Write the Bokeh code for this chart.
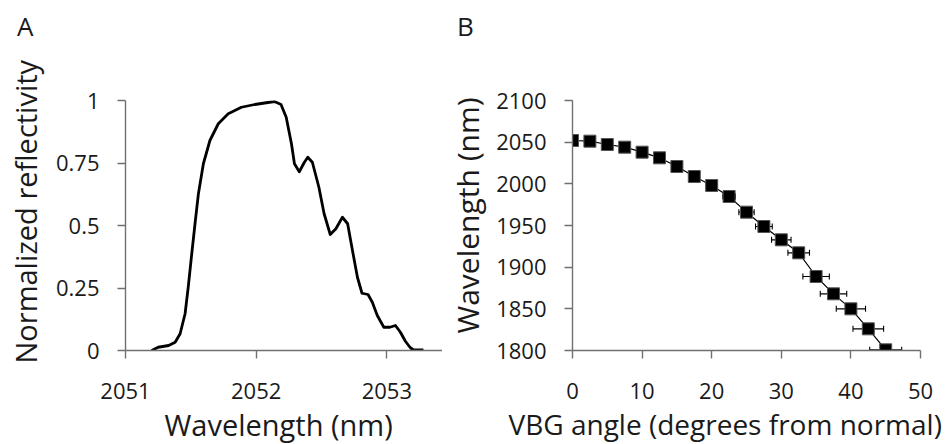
from bokeh.plotting import figure
from bokeh.layouts import row, column
from bokeh.models import ColumnDataSource, FixedTicker, Whisker, TeeHead, Title, Div
from bokeh.embed import file_html
from bokeh.resources import INLINE

# ---------------- Panel A data ----------------
wavelength_nm = [2051.20, 2051.25, 2051.33, 2051.38, 2051.418, 2051.456, 2051.48, 2051.507,
                 2051.532, 2051.558, 2051.596, 2051.646, 2051.71, 2051.786, 2051.887, 2051.989,
                 2052.09, 2052.14, 2052.19, 2052.23, 2052.27, 2052.293, 2052.33, 2052.369,
                 2052.395, 2052.43, 2052.48, 2052.52, 2052.567, 2052.61, 2052.66, 2052.70,
                 2052.737, 2052.775, 2052.81, 2052.856, 2052.889, 2052.927, 2052.977, 2053.023,
                 2053.066, 2053.104, 2053.142, 2053.18, 2053.205, 2053.28]
reflectivity = [0.0, 0.013, 0.02, 0.033, 0.067, 0.147, 0.253, 0.387,
                0.507, 0.627, 0.747, 0.84, 0.907, 0.947, 0.973, 0.984,
                0.992, 0.996, 0.984, 0.933, 0.827, 0.747, 0.715, 0.753,
                0.773, 0.753, 0.653, 0.547, 0.464, 0.487, 0.533, 0.507,
                0.40, 0.293, 0.229, 0.224, 0.193, 0.14, 0.093, 0.093,
                0.10, 0.073, 0.037, 0.011, 0.002, 0.002]
a_xticks = [2051, 2052, 2053]
a_yticks = [0, 0.25, 0.5, 0.75, 1]
a_ylabels = ["0", "0.25", "0.5", "0.75", "1"]

# ---------------- Panel B data ----------------
vbg_angle = [0, 2.5, 5, 7.5, 10, 12.5, 15, 17.5, 20, 22.5,
             25, 27.5, 30, 32.5, 35, 37.5, 40, 42.5, 45]
b_wavelength = [2052, 2051.2, 2047.2, 2044, 2038, 2031.2, 2020.8, 2008.8, 1998, 1984.8,
                1966, 1948.8, 1932.8, 1917.2, 1888.8, 1868, 1850, 1826, 1800.8]
angle_err = [0.4, 0.4, 0.4, 0.5, 0.5, 0.6, 0.6, 0.7, 0.8, 0.9,
             1.1, 1.2, 1.4, 1.55, 1.9, 1.9, 2.1, 2.2, 2.3]
b_xticks = [0, 10, 20, 30, 40, 50]
b_yticks = [1800, 1850, 1900, 1950, 2000, 2050, 2100]

FONT = "Open Sans"
TXT = "#1a1a1a"
AX = "#707070"

WA, WB = 442, 505
TOP_H = 40
FIG_H = 404


def style(p, xticks, yticks):
    p.xaxis.ticker = FixedTicker(ticks=xticks)
    p.yaxis.ticker = FixedTicker(ticks=yticks)
    for ax in (p.xaxis[0], p.yaxis[0]):
        ax.axis_line_color = AX
        ax.axis_line_width = 1.4
        ax.major_tick_line_color = AX
        ax.major_tick_line_width = 1.4
        ax.major_tick_out = 8
        ax.major_tick_in = 0
        ax.minor_tick_line_color = None
        ax.major_label_text_font = FONT
        ax.major_label_text_font_size = "22px"
        ax.major_label_text_color = TXT
    p.xaxis.major_label_standoff = 24
    p.yaxis.major_label_standoff = 18
    p.xgrid.visible = False
    p.ygrid.visible = False
    p.outline_line_color = None
    p.background_fill_color = "white"
    p.border_fill_color = "white"


def axis_title(p, text, side, offset, standoff, size, valign="bottom"):
    p.add_layout(Title(text=text, align="left", offset=offset, standoff=standoff,
                       vertical_align=valign,
                       text_font=FONT, text_font_size=size, text_font_style="normal",
                       text_color=TXT), side)


def letter_div(text, width, pad_left):
    html = ('<div style="margin:0;padding:13px 0 0 %dpx;font-family:\'Open Sans\';'
            'font-size:26px;line-height:26px;color:%s">%s</div>' % (pad_left, TXT, text))
    return Div(text=html, width=width, height=TOP_H, margin=(0, 0, 0, 0))


# ---------------- Panel A ----------------
pA = figure(width=WA, height=FIG_H, x_range=(2051, 2053.426), y_range=(0, 1),
            output_backend="svg", toolbar_location=None,
            min_border_left=123, min_border_right=0, min_border_top=60, min_border_bottom=94)
style(pA, a_xticks, a_yticks)
pA.yaxis.major_label_overrides = {t: s for t, s in zip(a_yticks, a_ylabels)}
pA.line(wavelength_nm, reflectivity, line_color="black", line_width=2.8, line_join="round")
axis_title(pA, "Wavelength (nm)", "below", 39, 2, "29px")
axis_title(pA, "Normalized reflectivity", "left", -13, 11, "29px", valign="top")

# ---------------- Panel B ----------------
srcB = ColumnDataSource(dict(
    x=vbg_angle, y=b_wavelength,
    lo=[a - e for a, e in zip(vbg_angle, angle_err)],
    hi=[a + e for a, e in zip(vbg_angle, angle_err)],
))
pB = figure(width=WB, height=FIG_H, x_range=(0, 50), y_range=(1800, 2100),
            output_backend="svg", toolbar_location=None,
            min_border_left=572 - WA, min_border_right=27, min_border_top=60,
            min_border_bottom=94)
style(pB, b_xticks, b_yticks)
pB.add_layout(Whisker(source=srcB, base="y", lower="lo", upper="hi", dimension="width",
                      line_color="black", line_width=1.1,
                      lower_head=TeeHead(size=6, line_color="black", line_width=1.1),
                      upper_head=TeeHead(size=6, line_color="black", line_width=1.1)))
pB.line("x", "y", source=srcB, line_color="black", line_width=1.2)
pB.scatter("x", "y", source=srcB, marker="square", size=12, fill_color="black",
           line_color="#555555", line_width=1)
axis_title(pB, "VBG angle (degrees from normal)", "below", -64, 2, "28px")
axis_title(pB, "Wavelength (nm)", "left", 17, 7, "30px", valign="top")

letters = row(letter_div("A", WA, 17), letter_div("B", WB, 457 - WA))
p = column(letters, row(pA, pB))
open("out.html", "w").write(file_html(p, INLINE))
